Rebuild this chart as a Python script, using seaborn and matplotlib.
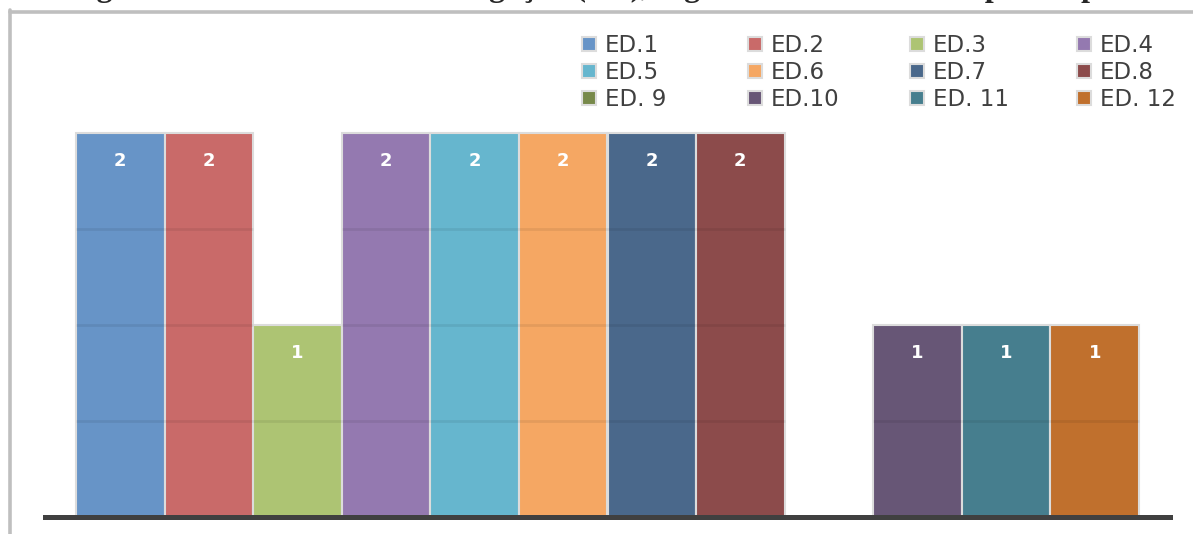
import matplotlib
matplotlib.use("Agg")
import matplotlib.pyplot as plt
import seaborn as sns
from matplotlib.lines import Line2D

# data
categories = ["ED.1", "ED.2", "ED.3", "ED.4", "ED.5", "ED.6",
              "ED.7", "ED.8", "ED. 9", "ED.10", "ED. 11", "ED. 12"]
values = [2, 2, 1, 2, 2, 2, 2, 2, 0, 1, 1, 1]
colors = ["#6794C7", "#C96A69", "#ADC473", "#9479B0", "#66B6CE", "#F5A763",
          "#4A688B", "#8C4B4B", "#77894A", "#675676", "#467E8E", "#C0702D"]
grid_levels = [0.5, 1.0, 1.5, 2.0]
title = "Figura 1 – Ocorrência de divulgação (ED), segundo a NBC T 19.16 por empresa"

W, H = 1193, 534
sns.set_theme(style="white")
plt.rcParams["font.family"] = ["DejaVu Sans"]

fig = plt.figure(figsize=(W / 100, H / 100), dpi=100)
ax = fig.add_axes([45 / W, (H - 516.5) / H, 1125 / W, 496.5 / H])

sns.barplot(x=categories, y=values, hue=categories, palette=colors,
            width=1.0, dodge=False, edgecolor="#dcdcdc", linewidth=1.5,
            saturation=1, legend=True, ax=ax)

ax.set_xlim(-0.85, 11.85)
ax.set_ylim(0, 496.5 / 192)
ax.set_xticks([])
ax.set_yticks([])
ax.set_xlabel("")
ax.set_ylabel("")
for s in ["left", "right", "top"]:
    ax.spines[s].set_visible(False)
ax.spines["bottom"].set_color("#404040")
ax.spines["bottom"].set_linewidth(3.6)
ax.spines["bottom"].set_zorder(5)

# gridlines only show through the bars, plus value labels
for patch, v in zip(ax.patches, values):
    x0 = patch.get_x()
    x1 = x0 + patch.get_width()
    for lv in grid_levels:
        if lv < v:
            ax.hlines(lv, x0, x1, color="black", alpha=0.07, lw=2, zorder=3)
    if v > 0:
        ax.annotate(str(v), (x0 + patch.get_width() / 2, v),
                    xytext=(0, -20.5), textcoords="offset points",
                    ha="center", va="center", color="white",
                    fontsize=13, fontweight="bold", zorder=4)

# legend: 3 rows x 4 columns, filled row-wise -> one small legend per column
leg = ax.get_legend()
handles = leg.legend_handles
labels = [t.get_text() for t in leg.get_texts()]
leg.remove()
col_x = [582, 748, 910, 1077]
for c, x in enumerate(col_x):
    idx = [r * 4 + c for r in range(3)]
    fig.legend([handles[i] for i in idx], [labels[i] for i in idx],
               loc="upper left", bbox_to_anchor=(x / W, 1 - 34.5 / H),
               ncol=1, frameon=False, fontsize=16.5, borderpad=0,
               borderaxespad=0, handlelength=0.6, handleheight=0.55,
               handletextpad=0.4, labelspacing=0.165, labelcolor="#404040")

# faint line behind legend and outer chart frame
fig.add_artist(Line2D([543 / W, 1168 / W], [1 - 38 / H, 1 - 38 / H],
                      color="#e3e3e3", lw=1.8, zorder=0))
fig.add_artist(Line2D([10 / W, 1.0], [1 - 11.5 / H, 1 - 11.5 / H],
                      color="#bfbfbf", lw=2.6))
fig.add_artist(Line2D([9.5 / W, 9.5 / W], [0, 1 - 10 / H],
                      color="#bfbfbf", lw=2.6))

# caption above the chart, cut off by the top edge as in the source
fig.text(68 / W, 1 + 4 / H, title, family=["Liberation Serif", "DejaVu Serif"],
         fontweight="bold", fontsize=23, va="baseline", ha="left")

fig.savefig("out.png", dpi=100)
